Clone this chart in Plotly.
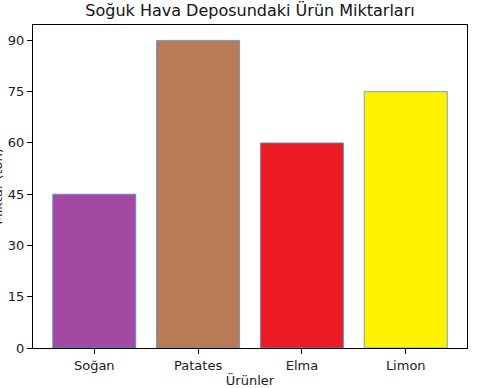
import plotly.graph_objects as go

urunler = ["Soğan", "Patates", "Elma", "Limon"]
miktar = [45, 90, 60, 75]
renkler = ["#A349A4", "#B97A57", "#ED1C24", "#FFF200"]
y_ticks = [0, 15, 30, 45, 60, 75, 90]

fig = go.Figure()
fig.add_trace(go.Bar(
    x=list(range(len(urunler))), y=miktar, width=0.8,
    marker=dict(color=renkler, line=dict(color="#4a94cf", width=0.8)),
))

font = dict(family="DejaVu Sans", size=13, color="#1a1a1a")
fig.update_layout(
    width=483, height=388,
    margin=dict(l=33, r=16, t=25, b=40, autoexpand=False),
    plot_bgcolor="white", paper_bgcolor="white",
    showlegend=False,
    font=font,
    title=dict(text="Soğuk Hava Deposundaki Ürün Miktarları",
               x=0.5, xref="paper", xanchor="center",
               y=1, yref="container", yanchor="top", pad=dict(t=5),
               font=dict(family="DejaVu Sans", size=16, color="#111111")),
    xaxis=dict(
        range=[-0.59, 3.59], tickmode="array", automargin=False,
        tickvals=list(range(len(urunler))), ticktext=urunler,
        showgrid=False, zeroline=False,
        showline=True, linecolor="black", linewidth=1, mirror=True,
        ticks="outside", ticklen=5, tickcolor="black",
        title=dict(text="Ürünler", standoff=4, font=font),
    ),
    yaxis=dict(
        range=[0, 94.5], tickmode="array", tickvals=y_ticks, automargin=False,
        showgrid=False, zeroline=False,
        showline=True, linecolor="black", linewidth=1, mirror=True,
        ticks="outside", ticklen=5, tickcolor="black",
    ),
    annotations=[dict(
        text="Miktar (ton)", textangle=-90, showarrow=False,
        xref="paper", yref="paper", x=-36/434, y=0.5,
        xanchor="center", yanchor="middle", font=font,
    )],
)

fig.write_html("out.html")
